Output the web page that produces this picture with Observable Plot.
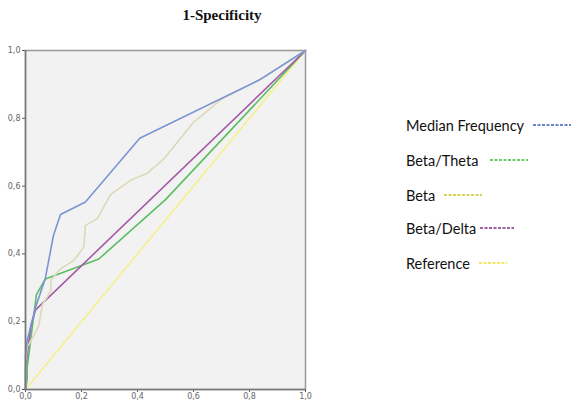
<!DOCTYPE html>
<html>
<head>
<meta charset="utf-8">
<script src="https://cdn.jsdelivr.net/npm/d3@7"></script>
<script src="https://cdn.jsdelivr.net/npm/@observablehq/plot@0.6"></script>
<style>
  body { margin: 0; background: #fff; }
  #wrap { position: relative; width: 577px; height: 408px; }
  #title { position: absolute; left: 0; width: 444px; top: 7px; text-align: center;
           font: bold 15px "Liberation Serif", serif; color: #111; }
  .lg { position: absolute; left: 406px; font: 14.5px Lato, "Liberation Sans", sans-serif; color: #111;
        white-space: nowrap; display: flex; align-items: center; }
</style>
</head>
<body>
<div id="wrap"><div id="title">1-Specificity</div></div>
<script>
// ROC curves: [1-Specificity, Sensitivity]
const seriesNames = ["Median Frequency", "Beta/Theta", "Beta", "Beta/Delta", "Reference"];
const medianFrequency = [[0,0],[0,0.10],[0.006,0.145],[0.036,0.243],[0.07,0.325],[0.1,0.455],[0.125,0.516],[0.214,0.553],[0.408,0.741],[0.833,0.912],[1,1]];
const betaTheta = [[0,0],[0.006,0.03],[0.006,0.065],[0.039,0.28],[0.071,0.326],[0.262,0.385],[0.5,0.56],[1,1]];
const beta = [[0,0],[0,0.08],[0.006,0.125],[0.03,0.16],[0.048,0.19],[0.06,0.25],[0.077,0.272],[0.092,0.295],[0.09,0.322],[0.125,0.356],[0.173,0.381],[0.208,0.42],[0.214,0.484],[0.256,0.504],[0.304,0.575],[0.375,0.617],[0.435,0.638],[0.494,0.68],[0.601,0.789],[0.702,0.857],[0.851,0.921],[1,1]];
const betaDelta = [[0,0],[0,0.06],[0.01,0.13],[0.02,0.19],[0.036,0.235],[1,1]];
const reference = [[0,0],[1,1]];
const tickValues = [0, 0.2, 0.4, 0.6, 0.8, 1.0];

const curveColors = ["#7a94d6", "#5cbd62", "#ddd9b8", "#a45aa8", "#f4f08c"];
const legendColors = ["#3d5cb6", "#3dba3d", "#c9c41c", "#7e2f86", "#f0e030"];
const legendDashWidths = [38, 38, 38, 34, 28];
const legendGaps = [9, 12, 9, 4, 9];
const legendY = [125, 160, 195, 228, 263];

const allSeries = [medianFrequency, betaTheta, beta, betaDelta, reference];
const fmt = d => d.toFixed(1).replace(".", ",");

const drawOrder = [4, 1, 3, 2, 0];
const lineMarks = drawOrder.map(i => Plot.line(allSeries[i], {x: d => d[0], y: d => d[1], stroke: curveColors[i], strokeWidth: 1.6}));

const chart = Plot.plot({
  width: 577, height: 408,
  marginLeft: 25, marginRight: 272, marginTop: 50, marginBottom: 19,
  x: {domain: [0, 1], ticks: tickValues, tickFormat: fmt, label: null},
  y: {domain: [0, 1], ticks: tickValues, tickFormat: fmt, label: null},
  style: {fontSize: "8px", fontFamily: "DejaVu Sans, sans-serif", color: "#666", background: "#fff"},
  marks: [
    Plot.frame({fill: "#f2f2f2", stroke: "#999", strokeWidth: 1.5}),
    ...lineMarks,
    Plot.axisX({ticks: tickValues, tickFormat: fmt, tickSize: 3, tickPadding: 1, stroke: "#555"}),
    Plot.axisY({ticks: tickValues, tickFormat: fmt, tickSize: 3, tickPadding: 2, stroke: "#555"}),
    Plot.ruleX([0], {stroke: "#777", strokeWidth: 1.5}),
    Plot.ruleY([0], {stroke: "#777", strokeWidth: 1.5})
  ]
});
const wrap = document.getElementById("wrap");
wrap.appendChild(chart);

seriesNames.forEach((name, i) => {
  const el = document.createElement("div");
  el.className = "lg";
  el.style.top = (legendY[i] - 10) + "px";
  el.style.height = "20px";
  const t = document.createElement("span");
  t.textContent = name;
  el.appendChild(t);
  const svg = d3.create("svg").attr("width", legendDashWidths[i]).attr("height", 4)
    .style("margin-left", legendGaps[i] + "px");
  svg.append("line").attr("x1", 0).attr("x2", legendDashWidths[i]).attr("y1", 2).attr("y2", 2)
    .attr("stroke", legendColors[i]).attr("stroke-width", 1.3).attr("stroke-dasharray", "3,1.5");
  el.appendChild(svg.node());
  wrap.appendChild(el);
});
</script>
</body>
</html>
